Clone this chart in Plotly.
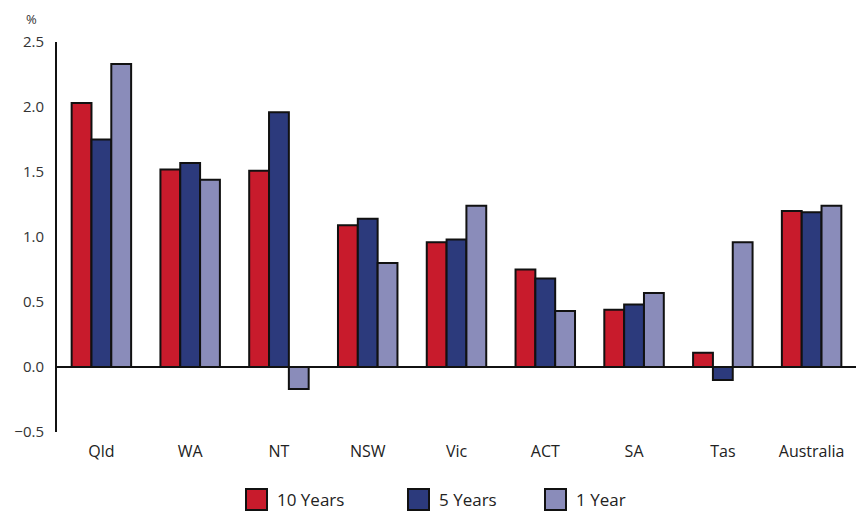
import plotly.graph_objects as go

categories = ["Qld", "WA", "NT", "NSW", "Vic", "ACT", "SA", "Tas", "Australia"]
ten_years = [2.03, 1.52, 1.51, 1.09, 0.96, 0.75, 0.44, 0.11, 1.20]
five_years = [1.75, 1.57, 1.96, 1.14, 0.98, 0.68, 0.48, -0.10, 1.19]
one_year = [2.33, 1.44, -0.17, 0.80, 1.24, 0.43, 0.57, 0.96, 1.24]
series_names = ["10 Years", "5 Years", "1 Year"]
colors = ["#C81B2C", "#2C3A7C", "#8A8CBA"]
y_ticks = [-0.5, 0.0, 0.5, 1.0, 1.5, 2.0, 2.5]

font_family = "Open Sans, DejaVu Sans, sans-serif"

W, H = 856, 511
ML, MR, MT, MB = 57, 0, 42, 79
PW, PH = W - ML - MR, H - MT - MB

def px_x(px):
    return (px - ML) / PW

def px_y(py):
    return (H - MB - py) / PH

fig = go.Figure()
for name, vals, col in zip(series_names, [ten_years, five_years, one_year], colors):
    fig.add_trace(go.Bar(
        x=categories, y=vals, name=name, showlegend=False,
        marker=dict(color=col, line=dict(color="#111111", width=2)),
    ))

# custom legend (large square swatches like the reference)
legend_swatch_left = [246, 408, 545]
shapes = []
annotations = []
for name, col, left in zip(series_names, colors, legend_swatch_left):
    shapes.append(dict(
        type="rect", xref="paper", yref="paper",
        x0=px_x(left), x1=px_x(left + 21), y0=px_y(510), y1=px_y(489),
        fillcolor=col, line=dict(color="#111111", width=2),
    ))
    annotations.append(dict(
        text=name, xref="paper", yref="paper",
        x=px_x(left + 29), y=px_y(499.5), xanchor="left", yanchor="middle",
        showarrow=False, font=dict(size=17, color="#222222"),
    ))

annotations.append(dict(
    text="%", xref="paper", yref="paper", x=px_x(24), y=px_y(19),
    xanchor="left", yanchor="middle", showarrow=False,
    font=dict(size=13, color="#333333"),
))

fig.update_layout(
    width=W, height=H,
    margin=dict(l=ML, r=MR, t=MT, b=MB),
    paper_bgcolor="white", plot_bgcolor="white",
    barmode="group", bargap=0.33, bargroupgap=0,
    font=dict(family=font_family, color="#222222"),
    showlegend=False,
    xaxis=dict(
        showline=False, showgrid=False, ticks="",
        tickfont=dict(size=16, color="#222222"), ticklabelstandoff=8,
    ),
    yaxis=dict(
        range=[-0.5, 2.5], tickvals=y_ticks, tickformat=".1f",
        showgrid=False, showline=True, linecolor="#111111", linewidth=2,
        zeroline=True, zerolinecolor="#111111", zerolinewidth=2,
        ticks="", tickfont=dict(size=15, color="#333333"), ticklabelstandoff=8,
    ),
    shapes=shapes,
    annotations=annotations,
)

fig.write_html(
    "out.html",
    config={"displayModeBar": False},
    post_script="document.body.style.margin='0';",
)
